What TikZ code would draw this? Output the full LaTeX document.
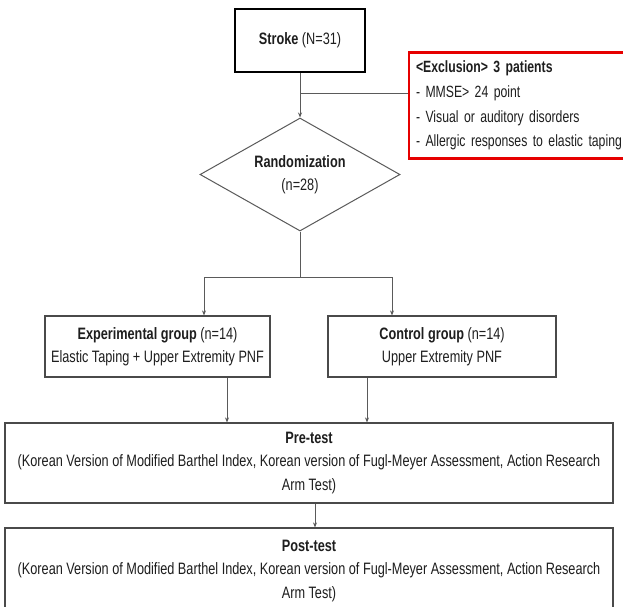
\documentclass[tikz,border=0pt]{standalone}
\usepackage{fontspec}
\setmainfont[FakeStretch=0.77]{Liberation Sans}
\newfontfamily\exfont[FakeStretch=0.75]{Liberation Sans}
\usetikzlibrary{arrows.meta,shapes.geometric}
\definecolor{txt}{HTML}{1E1E1E}
\definecolor{edge}{HTML}{4A4A4A}
\definecolor{conncol}{HTML}{5A5A5A}
\definecolor{exred}{HTML}{E60000}
\tikzset{
  basefont/.style={font=\fontsize{16.5}{23.5}\selectfont, text=txt},
  plainbox/.style={basefont, draw=edge, line width=1.2pt, rectangle, inner sep=0pt, align=center},
  strokebox/.style={basefont, draw=black, line width=2.6pt, rectangle, inner sep=0pt, align=center},
  exclbox/.style={font=\exfont\fontsize{16.3}{24.7}\selectfont, text=txt, draw=exred, line width=2.6pt, rectangle, inner xsep=7pt, inner ysep=0pt, align=left},
  decision/.style={basefont, draw=conncol, line width=1pt, diamond, shape aspect=1.77, inner sep=0pt, align=center},
  conn/.style={draw=conncol, line width=1pt},
  tip/.style={-{Stealth[length=5pt,width=4pt]}}
}
\begin{document}
\begin{tikzpicture}[x=1pt,y=-1pt]
\path[use as bounding box] (0,0) rectangle (623,606);
\clip (0,0) rectangle (623,606);
\fill[white] (0,0) rectangle (623,606);

\node[strokebox, minimum width=130pt, minimum height=63pt] (stroke) at (300,40.5) {\textbf{Stroke} (N=31)};

\node[exclbox, minimum width=231pt, minimum height=106pt, text width=217pt] (excl) at (524.5,105.5)
  {\textbf{<Exclusion> 3 patients}\\- MMSE> 24 point\\- Visual or auditory disorders\\- Allergic responses to elastic taping};

\node[decision, minimum width=200pt, minimum height=113pt] (rand) at (300,174.5) {\textbf{Randomization}\\(n=28)};

\node[plainbox, minimum width=225pt, minimum height=61pt] (exp) at (157.5,346.5)
  {\textbf{Experimental group} (n=14)\\Elastic Taping + Upper Extremity PNF};
\node[plainbox, minimum width=228pt, minimum height=61pt] (ctrl) at (442,346.5)
  {\textbf{Control group} (n=14)\\Upper Extremity PNF};

\node[plainbox, minimum width=608pt, minimum height=80pt] (pre) at (309,463)
  {\textbf{Pre-test}\\(Korean Version of Modified Barthel Index, Korean version of Fugl-Meyer Assessment, Action Research\\Arm Test)};
\node[plainbox, minimum width=608pt, minimum height=86pt] (post) at (309,571)
  {\textbf{Post-test}\\(Korean Version of Modified Barthel Index, Korean version of Fugl-Meyer Assessment, Action Research\\Arm Test)};

% connectors
\coordinate (j1) at (300,93);
\draw[conn,tip] (stroke.south) -- (rand.north);
\draw[conn] (j1) -- (j1 -| excl.west);

\coordinate (j2) at (300,277);
\coordinate (bl) at (204,277);
\coordinate (br) at (392,277);
\draw[conn] (rand.south) -- (j2);
\draw[conn] (bl) -- (br);
\draw[conn,tip] (bl) -- (bl |- exp.north);
\draw[conn,tip] (br) -- (br |- ctrl.north);

\coordinate (xe) at (227,400);
\coordinate (xc) at (367,400);
\draw[conn,tip] (xe |- exp.south) -- (xe |- pre.north);
\draw[conn,tip] (xc |- ctrl.south) -- (xc |- pre.north);

\coordinate (xp) at (315,515);
\draw[conn,tip] (xp |- pre.south) -- (xp |- post.north);
\end{tikzpicture}
\end{document}
